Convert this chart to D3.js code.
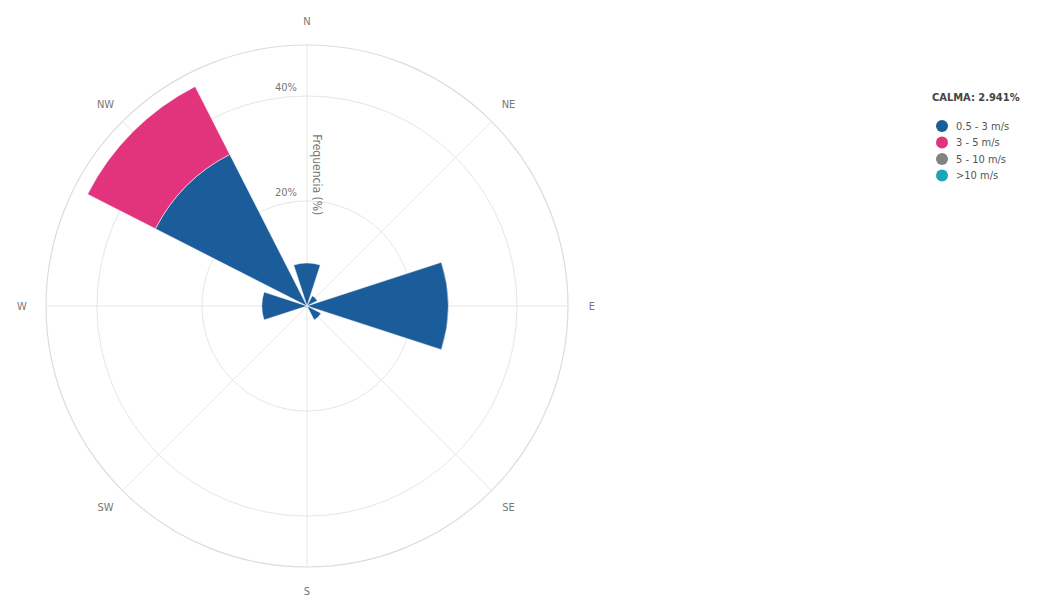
<!DOCTYPE html>
<html>
<head>
<meta charset="utf-8">
<script src="https://cdn.jsdelivr.net/npm/d3@7"></script>
<style>
  body { margin: 0; background: #fff; }
  svg { font-family: "DejaVu Sans Condensed", "Liberation Sans Narrow", sans-serif; }
</style>
</head>
<body>
<script>
// wind directions (8 sectors) and frequencies (%) per speed class
var directions = ['N', 'NE', 'E', 'SE', 'S', 'SW', 'W', 'NW'];
var speedClasses = ['0.5 - 3 m/s', '3 - 5 m/s', '5 - 10 m/s', '>10 m/s'];
var speedColors = ['#1b5c9b', '#e2347d', '#838383', '#1ba6b6'];
var freq0to3 = [8.2, 2.2, 26.9, 3.0, 0.4, 0.4, 8.6, 32.4];
var freq3to5 = [0, 0, 0, 0, 0, 0, 0, 14.5];
var freq5to10 = [0, 0, 0, 0, 0, 0, 0, 0];
var freqOver10 = [0, 0, 0, 0, 0, 0, 0, 0];
var radialTicks = [20, 40];
var calma = 'CALMA: 2.941%';

var width = 1052, height = 601;
var cx = 307, cy = 306, outerR = 261;
var barWidthDeg = 36;

var svg = d3.select('body').append('svg')
  .attr('width', width)
  .attr('height', height);

var r = d3.scaleLinear().domain([0, 49.7]).range([0, outerR]);
var angle = d3.scaleBand().domain(directions).range([0, 360]);

var g = svg.append('g').attr('transform', `translate(${cx},${cy})`);

// grid: circles
g.selectAll('.ring')
  .data(radialTicks)
  .enter().append('circle')
  .attr('r', function(d) { return r(d); })
  .attr('fill', 'none')
  .attr('stroke', '#e6e6e6')
  .attr('stroke-width', 1);

g.append('circle')
  .attr('r', outerR)
  .attr('fill', 'none')
  .attr('stroke', '#dcdcdc')
  .attr('stroke-width', 1.2);

// grid: spokes
g.selectAll('.spoke')
  .data(directions)
  .enter().append('line')
  .attr('x1', 0).attr('y1', 0)
  .attr('x2', function(d) { return outerR * Math.sin(angle(d) * Math.PI / 180); })
  .attr('y2', function(d) { return -outerR * Math.cos(angle(d) * Math.PI / 180); })
  .attr('stroke', '#e6e6e6')
  .attr('stroke-width', 1);

// stacked bars
var series = [freq0to3, freq3to5, freq5to10, freqOver10];
var arc = d3.arc();
series.forEach(function(vals, si) {
  directions.forEach(function(dir, di) {
    var base = 0;
    for (var k = 0; k < si; k++) base += series[k][di];
    var v = vals[di];
    if (v <= 0) return;
    var a = angle(dir) * Math.PI / 180;
    var hw = barWidthDeg / 2 * Math.PI / 180;
    g.append('path')
      .attr('d', arc({
        innerRadius: r(base),
        outerRadius: r(base + v),
        startAngle: a - hw,
        endAngle: a + hw
      }))
      .attr('fill', speedColors[si])
      .attr('stroke', '#fff')
      .attr('stroke-width', 0.5);
  });
});

// radial tick labels
g.selectAll('.rtick')
  .data(radialTicks)
  .enter().append('text')
  .attr('x', -10)
  .attr('y', function(d) { return -r(d) - 5; })
  .attr('text-anchor', 'end')
  .attr('font-size', 11)
  .attr('fill', '#777')
  .text(function(d) { return d + '%'; });

// radial axis title
g.append('text')
  .attr('transform', `translate(6,${-r(25)}) rotate(90)`)
  .attr('text-anchor', 'middle')
  .attr('font-size', 12)
  .attr('fill', '#777')
  .text('Frequencia (%)');

// direction labels
var labelR = outerR + 24;
g.selectAll('.dir')
  .data(directions)
  .enter().append('text')
  .attr('x', function(d) { return labelR * Math.sin(angle(d) * Math.PI / 180); })
  .attr('y', function(d) { return -labelR * Math.cos(angle(d) * Math.PI / 180); })
  .attr('dy', '0.35em')
  .attr('text-anchor', 'middle')
  .attr('font-size', 11)
  .attr('fill', '#777')
  .text(function(d) { return d; });

// legend
var legend = svg.append('g').attr('transform', 'translate(932,97)');
legend.append('text')
  .attr('x', 0).attr('y', 0)
  .attr('dy', '0.35em')
  .attr('font-size', 11)
  .attr('font-weight', 'bold')
  .attr('fill', '#444')
  .text(calma);

var items = legend.selectAll('.item')
  .data(speedClasses)
  .enter().append('g')
  .attr('transform', function(d, i) { return `translate(0,${29 + i * 16.5})`; });
items.append('circle')
  .attr('cx', 10).attr('cy', 0).attr('r', 6)
  .attr('fill', function(d, i) { return speedColors[i]; });
items.append('text')
  .attr('x', 24).attr('y', 0)
  .attr('dy', '0.35em')
  .attr('font-size', 11)
  .attr('fill', '#555')
  .text(function(d) { return d; });
</script>
</body>
</html>
